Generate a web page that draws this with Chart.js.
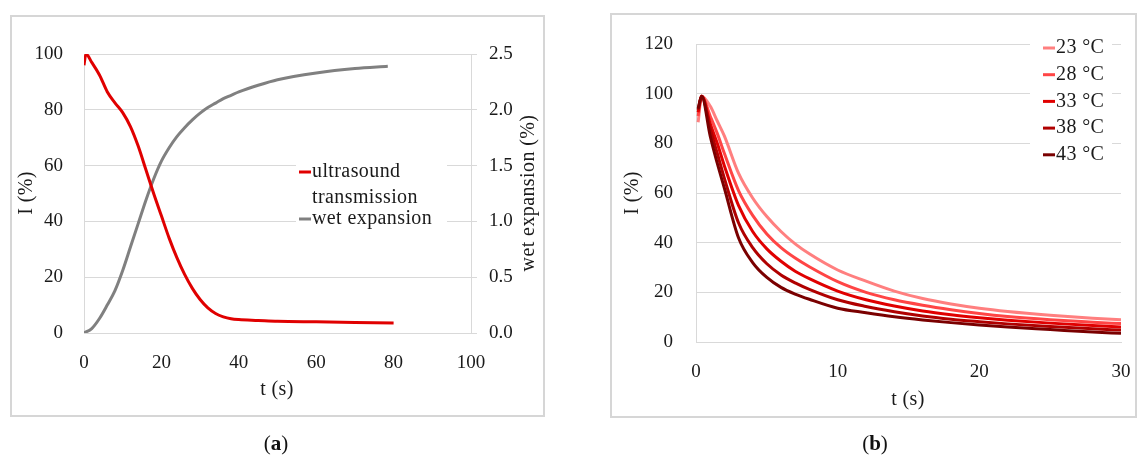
<!DOCTYPE html>
<html>
<head>
<meta charset="utf-8">
<script src="https://cdn.jsdelivr.net/npm/chart.js@4"></script>
<style>
  body { margin: 0; background: #fff; width: 1138px; height: 456px; position: relative; overflow: hidden; }
  .panel { position: absolute; box-sizing: border-box; border: 2px solid #d6d6d6; }
  #boxA { left: 10px; top: 15px; width: 535px; height: 402px; }
  #boxB { left: 610px; top: 13px; width: 527px; height: 405px; }
  canvas { position: absolute; top: 0; }
  #chartA { left: 0; }
  #chartB { left: 600px; }
  .cap { position: absolute; width: 80px; text-align: center; font: 21px "Liberation Serif", serif; color: #111; line-height: 24px; }
  #capA { left: 236px; top: 431px; }
  #capB { left: 835px; top: 431px; }
</style>
</head>
<body>
<div class="panel" id="boxA"></div>
<div class="panel" id="boxB"></div>
<canvas id="chartA" width="560" height="456"></canvas>
<canvas id="chartB" width="538" height="456"></canvas>
<div class="cap" id="capA">(<b>a</b>)</div>
<div class="cap" id="capB">(<b>b</b>)</div>
<script>
/* ===== DATA: panel (a) ===== */
const tUltra = [0, 0.5, 2, 4, 6, 8, 10, 12, 14, 16, 18, 20, 22, 24, 26, 28, 30, 32, 34, 36, 38, 40, 45, 50, 60, 70, 80];
const ultrasound = [96, 100, 97, 92.5, 86.5, 82.5, 79, 74, 67, 58.5, 50, 42, 34, 27, 21, 16, 12, 9, 7, 5.8, 5.1, 4.8, 4.5, 4.2, 4, 3.8, 3.6];
const tWet = [0, 2, 4, 6, 8, 10, 12, 14, 16, 18, 20, 22, 24, 26, 28, 30, 32, 34, 36, 38, 40, 45, 50, 60, 70, 78.5];
const wetExp = [0, 0.04, 0.13, 0.25, 0.38, 0.56, 0.77, 0.98, 1.19, 1.38, 1.54, 1.66, 1.76, 1.84, 1.91, 1.97, 2.02, 2.06, 2.1, 2.13, 2.16, 2.22, 2.27, 2.33, 2.37, 2.39];

/* ===== DATA: panel (b) ===== */
const tTemp = [0.15, 0.4, 1, 1.5, 2, 3, 4, 5, 6, 7, 8, 10, 12, 14, 16, 18, 20, 22, 25, 28, 30];
const tempLabels = ["23 °C", "28 °C", "33 °C", "38 °C", "43 °C"];
const i23 = [88.5, 99, 95, 89, 83, 68, 58, 50.5, 44.5, 39.5, 35.5, 29, 24.5, 20.5, 17.5, 15.3, 13.6, 12.3, 10.8, 9.6, 9];
const i28 = [91, 99, 91, 84, 76, 61, 51, 43.5, 38, 33.8, 30.3, 24.3, 20, 17, 14.8, 13, 11.5, 10.3, 9, 8, 7.4];
const i33 = [92.5, 99, 88, 80, 71, 55, 44.5, 37.5, 32.5, 28.5, 25.5, 20.5, 17, 14.5, 12.5, 11, 9.8, 8.8, 7.6, 6.6, 6];
const i38 = [93.5, 99, 86, 76, 66, 48, 38, 31.5, 27, 23.8, 21.2, 17, 14.3, 12.2, 10.5, 9.2, 8.2, 7.3, 6.2, 5.3, 4.8];
const i43 = [94, 99, 83, 72, 62, 42, 32, 26, 22, 19.3, 17.2, 13.6, 11.8, 10.2, 8.9, 7.8, 6.8, 6, 5, 4, 3.5];
const tempSeries = [i23, i28, i33, i38, i43];
const tempColors = ["#ff7f7f", "#ff4545", "#e00000", "#b00000", "#7a0000"];

const FONT = "'Liberation Serif', 'Times New Roman', serif";
const TXT = "#1a1a1a";
const GRID = "#d9d9d9";

Chart.defaults.font.family = FONT;
Chart.defaults.font.size = 19;
Chart.defaults.color = TXT;

function pts(xs, ys) {
    return xs.map((x, i) => ({ x: x, y: ys[i] }));
}

// fixed box sizes so the plot areas sit where the reference has them
function fixW(w) {
    return s => { s.width = w; s.paddingTop = 0; s.paddingBottom = 0; };
}
function fixH(h) {
    return s => { s.height = h; s.paddingLeft = 0; s.paddingRight = 0; };
}

// axis titles + legend drawn by hand (legend sits inside the plot)
function overlay(id, titles, legend) {
    return {
        id: id,
        afterDraw(chart) {
            const ctx = chart.ctx;
            ctx.save();
            ctx.font = "20px " + FONT;
            if ("letterSpacing" in ctx) ctx.letterSpacing = "0.4px";
            ctx.fillStyle = TXT;
            ctx.textAlign = "center";
            ctx.textBaseline = "middle";
            titles.forEach(t => {
                ctx.save();
                ctx.translate(t.x, t.y);
                if (t.rot) ctx.rotate(t.rot);
                ctx.fillText(t.text, 0, 0);
                ctx.restore();
            });

            const b = legend.box;
            ctx.fillStyle = "#fff";
            ctx.fillRect(b[0], b[1], b[2], b[3]);
            ctx.textAlign = "left";
            legend.items.forEach(it => {
                ctx.strokeStyle = it.color;
                ctx.lineWidth = 3;
                ctx.beginPath();
                ctx.moveTo(legend.x, it.y);
                ctx.lineTo(legend.x + 12, it.y);
                ctx.stroke();
                ctx.fillStyle = TXT;
                it.lines.forEach((ln, k) => {
                    ctx.fillText(ln, legend.x + 13, it.y + k * 26);
                });
            });
            ctx.restore();
        }
    };
}

/* ===== CHART (a) ===== */
new Chart(document.getElementById("chartA"), {
    type: "line",
    data: {
        datasets: [{
            label: "ultrasound transmission",
            data: pts(tUltra, ultrasound),
            borderColor: "#e00000",
            yAxisID: "y"
        }, {
            label: "wet expansion",
            data: pts(tWet, wetExp),
            borderColor: "#808080",
            yAxisID: "y2"
        }]
    },
    options: {
        responsive: false,
        animation: false,
        elements: {
            point: { radius: 0 },
            line: { borderWidth: 3, cubicInterpolationMode: "monotone", fill: false }
        },
        layout: { padding: { top: 54, right: 0, bottom: 53, left: 0 } },
        plugins: { legend: { display: false }, tooltip: { enabled: false } },
        scales: {
            x: {
                type: "linear", min: 0, max: 100,
                ticks: { stepSize: 20, padding: 11, autoSkip: false, maxRotation: 0 },
                grid: { display: false },
                border: { display: true, color: GRID },
                afterFit: fixH(70)
            },
            y: {
                position: "left", min: 0, max: 100,
                ticks: { stepSize: 20, padding: 21 },
                grid: { color: GRID, drawTicks: false },
                border: { color: GRID },
                afterFit: fixW(84)
            },
            y2: {
                position: "right", min: 0, max: 2.5,
                ticks: { stepSize: 0.5, padding: 12, callback: v => v.toFixed(1) },
                grid: { color: GRID, drawOnChartArea: false, drawTicks: true, tickLength: 6 },
                border: { color: GRID },
                afterFit: fixW(89)
            }
        }
    },
    plugins: [overlay("ovA", [
        { text: "I (%)", x: 27, y: 193, rot: -Math.PI / 2 },
        { text: "wet expansion (%)", x: 529, y: 193, rot: -Math.PI / 2 },
        { text: "t (s)", x: 277, y: 390 }
    ], {
        box: [296, 158, 151, 74],
        x: 299,
        items: [
            { color: "#e00000", y: 172, lines: ["ultrasound", "transmission"] },
            { color: "#808080", y: 219, lines: ["wet expansion"] }
        ]
    })]
});

/* ===== CHART (b) ===== */
const dsB = tempSeries.map((s, i) => ({
    label: tempLabels[i],
    data: pts(tTemp, s),
    borderColor: tempColors[i],
    order: tempSeries.length - i
}));

new Chart(document.getElementById("chartB"), {
    type: "line",
    data: { datasets: dsB },
    options: {
        responsive: false,
        animation: false,
        elements: {
            point: { radius: 0 },
            line: { borderWidth: 3, cubicInterpolationMode: "monotone", fill: false }
        },
        layout: { padding: { top: 44, right: 17, bottom: 44, left: 0 } },
        plugins: { legend: { display: false }, tooltip: { enabled: false } },
        scales: {
            x: {
                type: "linear", min: 0, max: 30,
                ticks: { stepSize: 10, padding: 11, autoSkip: false, maxRotation: 0 },
                grid: { display: false },
                border: { display: true, color: GRID },
                afterFit: fixH(70)
            },
            y: {
                min: 0, max: 120,
                ticks: { stepSize: 20, padding: 23 },
                grid: { color: GRID, drawTicks: false },
                border: { color: GRID },
                afterFit: fixW(96)
            }
        }
    },
    plugins: [overlay("ovB", [
        { text: "I (%)", x: 33, y: 193, rot: -Math.PI / 2 },
        { text: "t (s)", x: 308, y: 400 }
    ], {
        box: [430, 34, 82, 132],
        x: 443,
        items: tempLabels.map((lb, i) => ({ color: tempColors[i], y: 48 + i * 26.7, lines: [lb] }))
    })]
});
</script>
</body>
</html>
